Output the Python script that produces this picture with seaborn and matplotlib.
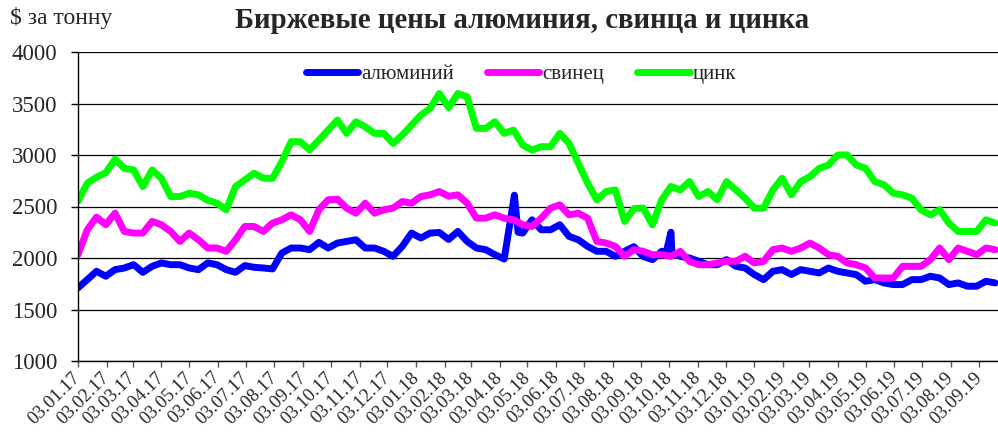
import numpy as np
import pandas as pd
import matplotlib
matplotlib.use("Agg")
import matplotlib.pyplot as plt
import matplotlib.dates as mdates
import seaborn as sns

# ---------------- data ----------------
start_date = "2017-01-03"
step_days = 10          # sampling of the values
zinc = [2550, 2726, 2784, 2829, 2960, 2871, 2855, 2694, 2855, 2774,
        2597, 2597, 2629, 2613, 2560, 2532, 2468, 2694, 2758, 2823,
        2775, 2774, 2935, 3129, 3129, 3050, 3145, 3242, 3339, 3210,
        3323, 3274, 3210, 3210, 3113, 3194, 3290, 3387, 3452, 3597,
        3460, 3597, 3565, 3258, 3258, 3323, 3210, 3242, 3097, 3048,
        3081, 3081, 3210, 3113, 2919, 2726, 2565, 2645, 2661, 2355,
        2480, 2484, 2323, 2565, 2694, 2661, 2742, 2597, 2645, 2565,
        2742, 2661, 2581, 2484, 2484, 2661, 2774, 2613, 2742, 2790,
        2870, 2903, 3000, 3000, 2903, 2871, 2742, 2710, 2629, 2613,
        2581, 2468, 2419, 2468, 2339, 2258, 2258, 2258, 2371, 2339]
lead = [2032, 2274, 2397, 2323, 2435, 2258, 2242, 2242, 2355, 2323,
        2258, 2161, 2242, 2177, 2097, 2097, 2065, 2177, 2306, 2306,
        2258, 2339, 2371, 2419, 2371, 2258, 2468, 2565, 2571, 2484,
        2435, 2532, 2435, 2468, 2484, 2548, 2532, 2597, 2613, 2645,
        2600, 2613, 2532, 2387, 2387, 2419, 2387, 2371, 2323, 2306,
        2387, 2484, 2516, 2419, 2435, 2387, 2161, 2145, 2113, 2016,
        2081, 2065, 2032, 2032, 2016, 2065, 1968, 1935, 1935, 1952,
        1968, 1968, 2016, 1952, 1968, 2081, 2097, 2065, 2097, 2145,
        2097, 2032, 2016, 1952, 1935, 1903, 1806, 1806, 1806, 1919,
        1919, 1919, 1984, 2097, 1984, 2097, 2065, 2032, 2097, 2081]
aluminium = [1710, 1790, 1871, 1823, 1887, 1903, 1935, 1861, 1919, 1952,
             1935, 1935, 1903, 1887, 1952, 1935, 1887, 1861, 1926, 1910,
             1903, 1894, 2048, 2097, 2097, 2081, 2152, 2097, 2145, 2161,
             2177, 2097, 2097, 2065, 2016, 2113, 2242, 2194, 2242, 2248,
             2180, 2258, 2161, 2097, 2081, 2032, 1990, 2550, 2242, 2371,
             2274, 2274, 2323, 2210, 2177, 2113, 2065, 2065, 2016, 2065,
             2110, 2016, 1984, 2065, 2250, 2016, 2000, 1968, 1935, 1935,
             1984, 1919, 1903, 1839, 1790, 1871, 1887, 1839, 1887, 1871,
             1855, 1903, 1871, 1855, 1839, 1774, 1790, 1758, 1742, 1742,
             1790, 1790, 1823, 1806, 1742, 1758, 1726, 1726, 1774, 1758]
# extra aluminium points for the two short spikes
aluminium_extra_dates = ["2018-04-19", "2018-04-23", "2018-09-30", "2018-10-06"]
aluminium_extra_values = [2610, 2250, 2060, 2050]

series_names = ["алюминий", "свинец", "цинк"]
series_colors = ["#0000FF", "#FF00FF", "#00FF00"]
title_text = "Биржевые цены алюминия, свинца и цинка"
unit_text = "$ за тонну"
y_ticks = [1000, 1500, 2000, 2500, 3000, 3500, 4000]

# ---------------- build long-form table ----------------
dates = pd.date_range(start_date, periods=len(zinc), freq=f"{step_days}D")
al_df = pd.DataFrame({"date": list(dates) + list(pd.to_datetime(aluminium_extra_dates)),
                      "value": aluminium + aluminium_extra_values})
al_df = al_df.sort_values("date")
al_df["series"] = series_names[0]
pb_df = pd.DataFrame({"date": dates, "value": lead, "series": series_names[1]})
zn_df = pd.DataFrame({"date": dates, "value": zinc, "series": series_names[2]})
df = pd.concat([al_df, pb_df, zn_df], ignore_index=True)

# ---------------- style ----------------
sns.set_style("white")
plt.rcParams["font.family"] = ["Liberation Serif", "DejaVu Serif"]

fig = plt.figure(figsize=(9.98, 4.32), dpi=100)
ax = fig.add_axes([78 / 998, 1 - 361 / 432, 920 / 998, 309 / 432])

sns.lineplot(data=df, x="date", y="value", hue="series",
             hue_order=series_names, palette=series_colors,
             linewidth=5.0, ax=ax, sort=False, estimator=None,
             solid_capstyle="round", solid_joinstyle="round")

ax.set_ylim(1000, 4000)
ax.set_yticks(y_ticks)
ax.set_xlim(pd.Timestamp("2017-01-03"), pd.Timestamp("2019-09-23"))
ax.xaxis.set_major_locator(mdates.MonthLocator(bymonthday=3))
ax.xaxis.set_major_formatter(mdates.DateFormatter("%d.%m.%y"))
ax.set_xlabel("")
ax.set_ylabel("")

ax.yaxis.grid(True, color="black", linewidth=0.9)
ax.set_axisbelow(True)
for s in ["top", "right"]:
    ax.spines[s].set_visible(False)
for s in ["left", "bottom"]:
    ax.spines[s].set_color("black")
    ax.spines[s].set_linewidth(1.0)

ax.tick_params(axis="y", direction="out", length=5, width=1, color="black",
               pad=10, labelsize=16.5, left=True)
ax.tick_params(axis="x", direction="out", length=4, width=1, color="#555555",
               pad=6, labelsize=13.5, bottom=True)
for lab in ax.get_xticklabels():
    lab.set_rotation(45)
    lab.set_ha("right")
    lab.set_va("center")
    lab.set_rotation_mode("anchor")

handles, labels = ax.get_legend_handles_labels()
leg = ax.legend(handles, labels, ncol=3, loc="center",
                bbox_to_anchor=(0.4815, 0.928), frameon=False,
                fontsize=15, handlelength=2.5, handletextpad=0.15,
                columnspacing=1.6)
for line in leg.get_lines():
    line.set_linewidth(5.0)

fig.text(522 / 998, 1 - 20 / 432, title_text, ha="center", va="center",
         fontsize=20.7, fontweight="bold")
fig.text(10 / 998, 1 - 18 / 432, unit_text, ha="left", va="center",
         fontsize=17)

fig.savefig("out.png", dpi=100)
